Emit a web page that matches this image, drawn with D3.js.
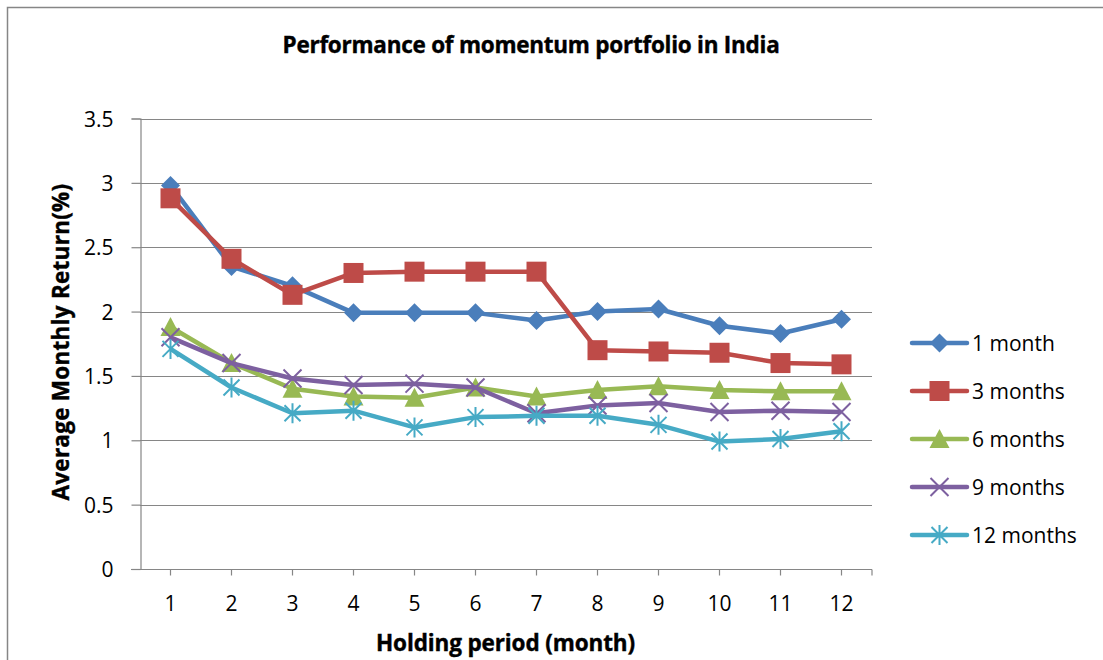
<!DOCTYPE html>
<html>
<head>
<meta charset="utf-8">
<script src="https://cdn.jsdelivr.net/npm/d3@7"></script>
<style>
  html, body { margin: 0; padding: 0; background: #fff; }
  svg { display: block; }
  text { font-family: "Open Sans", "Lato", sans-serif; fill: #000; }
</style>
</head>
<body>
<svg id="chart" width="1103" height="660"></svg>
<script>
const categories = [1, 2, 3, 4, 5, 6, 7, 8, 9, 10, 11, 12];
const seriesNames = ["1 month", "3 months", "6 months", "9 months", "12 months"];
const oneMonth     = [2.98, 2.35, 2.20, 1.99, 1.99, 1.99, 1.93, 2.00, 2.02, 1.89, 1.83, 1.94];
const threeMonths  = [2.88, 2.41, 2.13, 2.30, 2.31, 2.31, 2.31, 1.70, 1.69, 1.68, 1.60, 1.59];
const sixMonths    = [1.88, 1.60, 1.40, 1.34, 1.33, 1.41, 1.34, 1.39, 1.42, 1.39, 1.38, 1.38];
const nineMonths   = [1.80, 1.60, 1.48, 1.43, 1.44, 1.41, 1.21, 1.27, 1.29, 1.22, 1.23, 1.22];
const twelveMonths = [1.71, 1.41, 1.21, 1.23, 1.10, 1.18, 1.19, 1.19, 1.12, 0.99, 1.01, 1.07];
const yTicks = [0, 0.5, 1, 1.5, 2, 2.5, 3, 3.5];
const titleText = "Performance of momentum portfolio in India";
const xTitle = "Holding period (month)";
const yTitle = "Average Monthly Return(%)";

const colors = ["#4A7EBB", "#BE4B48", "#98B954", "#7D60A0", "#46AAC5"];
const markers = ["diamond", "square", "triangle", "x", "star"];
const seriesValues = [oneMonth, threeMonths, sixMonths, nineMonths, twelveMonths];

(function () {
const svg = d3.select("#chart");
const axisColor = "#868686";
const labelFont = "Open Sans";
const labelSize = 21;

// outer chart border (right/bottom edges fall outside the picture)
svg.append("rect").attr("x", 7.5).attr("y", 7.5).attr("width", 1300).attr("height", 900)
  .attr("fill", "none").attr("stroke", axisColor).attr("stroke-width", 1.5);

const pLeft = 140, pRight = 872, pTop = 118.5, pBottom = 569;
const x = d3.scaleBand().domain(categories).range([pLeft, pRight]);
const y = d3.scaleLinear().domain([0, 3.5]).range([pBottom, pTop]);
const cx = d => x(d) + x.bandwidth() / 2;

// keep the font size, adjust letter spacing so the text spans the target width
function fitSpacing(sel, size, target) {
  sel.attr("font-size", size).attr("letter-spacing", 0);
  const len = sel.node().getComputedTextLength();
  const n = sel.text().length;
  sel.attr("letter-spacing", (target - len) / n);
}

// gridlines
svg.append("g").selectAll("line").data(yTicks.filter(d => d > 0)).join("line")
  .attr("x1", pLeft).attr("x2", pRight)
  .attr("y1", d => Math.round(y(d)) + 0.5).attr("y2", d => Math.round(y(d)) + 0.5)
  .attr("stroke", axisColor).attr("stroke-width", 1.2);

// y axis
const yAxis = svg.append("g").attr("transform", `translate(${pLeft + 0.5},0)`)
  .call(d3.axisLeft(y).tickValues(yTicks).tickSize(9).tickPadding(18).tickFormat(d => String(d)));
yAxis.select(".domain").attr("stroke", axisColor).attr("stroke-width", 1.2);
yAxis.selectAll(".tick line").attr("stroke", axisColor).attr("stroke-width", 1.2);
yAxis.selectAll(".tick text").attr("font-size", labelSize).attr("font-family", labelFont).attr("fill", "#000").attr("dy", "0.36em");

// x axis
const xAxis = svg.append("g").attr("transform", `translate(0,${pBottom + 0.5})`)
  .call(d3.axisBottom(x).tickSizeInner(6).tickSizeOuter(0).tickPadding(21));
xAxis.select(".domain").attr("stroke", axisColor).attr("stroke-width", 1.2)
  .attr("d", `M${pLeft - 9},0H${pRight}`);
xAxis.selectAll(".tick line").attr("stroke", axisColor).attr("stroke-width", 1.2);
xAxis.selectAll(".tick text").attr("font-size", labelSize).attr("font-family", labelFont).attr("fill", "#000");
xAxis.append("line").attr("x1", pRight).attr("x2", pRight).attr("y1", 0).attr("y2", 6)
  .attr("stroke", axisColor).attr("stroke-width", 1.2);

// marker drawing
function drawMarker(g, type, color) {
  if (type === "diamond") {
    g.append("path").attr("d", "M0,-9.5L9.5,0L0,9.5L-9.5,0Z").attr("fill", color);
  } else if (type === "square") {
    g.append("path").attr("d", "M-10,-10H10V10H-10Z").attr("fill", color);
  } else if (type === "triangle") {
    g.append("path").attr("d", "M0,-10L10,9L-10,9Z").attr("fill", color);
  } else if (type === "x") {
    g.append("path").attr("d", "M-9,-9L9,9M-9,9L9,-9").attr("stroke", color).attr("stroke-width", 2).attr("fill", "none");
  } else if (type === "star") {
    g.append("path").attr("d", "M-8,-8L8,8M-8,8L8,-8M0,-10V10").attr("stroke", color).attr("stroke-width", 2).attr("fill", "none");
  }
}

const line = d3.line().x((d, i) => cx(categories[i])).y(d => y(d));

seriesValues.forEach((vals, si) => {
  const g = svg.append("g");
  g.append("path").attr("d", line(vals)).attr("fill", "none")
    .attr("stroke", colors[si]).attr("stroke-width", 4.5).attr("stroke-linejoin", "round");
  vals.forEach((v, i) => {
    const mg = g.append("g").attr("transform", `translate(${cx(categories[i])},${y(v)})`);
    drawMarker(mg, markers[si], colors[si]);
  });
});

// legend
const legend = svg.append("g");
seriesNames.forEach((name, i) => {
  const ry = 343 + i * 48;
  const lg = legend.append("g");
  lg.append("line").attr("x1", 912).attr("x2", 967).attr("y1", ry).attr("y2", ry)
    .attr("stroke", colors[i]).attr("stroke-width", 4.5).attr("stroke-linecap", "round");
  const mg = lg.append("g").attr("transform", `translate(939.5,${ry})`);
  drawMarker(mg, markers[i], colors[i]);
  lg.append("text").attr("x", 972).attr("y", ry).attr("dy", "0.36em")
    .attr("font-family", labelFont).attr("font-size", labelSize).text(name);
});

// titles (Calibri-like bold: Lato bold, slightly tightened)
const t = svg.append("text").attr("x", 531).attr("y", 53).attr("text-anchor", "middle")
  .attr("font-family", "Lato").attr("font-weight", "bold")
  .attr("stroke", "#000").attr("stroke-width", 0.4).text(titleText);
fitSpacing(t, 22.5, 497);

const xt = svg.append("text").attr("x", 505.5).attr("y", 651).attr("text-anchor", "middle")
  .attr("font-family", "Lato").attr("font-weight", "bold")
  .attr("stroke", "#000").attr("stroke-width", 0.4).text(xTitle);
fitSpacing(xt, 22.5, 259);

const yt = svg.append("text").attr("transform", "translate(69,342) rotate(-90)")
  .attr("text-anchor", "middle").attr("font-family", "Lato").attr("font-weight", "bold")
  .attr("stroke", "#000").attr("stroke-width", 0.4).text(yTitle);
fitSpacing(yt, 22.5, 317);
})();
</script>
</body>
</html>
